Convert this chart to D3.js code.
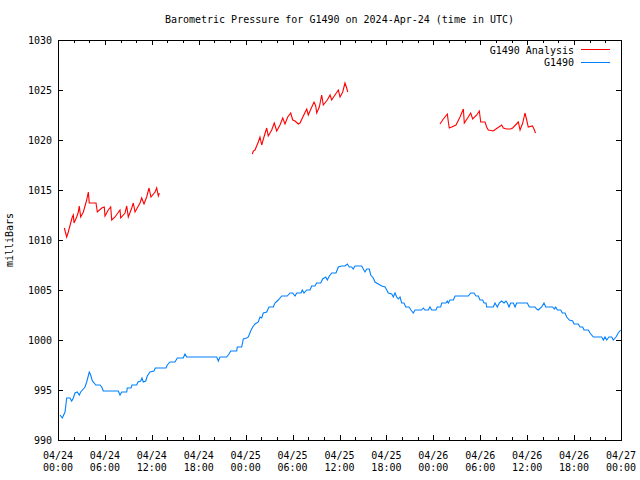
<!DOCTYPE html>
<html>
<head>
<meta charset="utf-8">
<script src="https://cdn.jsdelivr.net/npm/d3@7"></script>
<style>
  html, body { margin: 0; padding: 0; background: #fff; }
  svg text { font-family: "DejaVu Sans Mono", "Liberation Mono", monospace; font-size: 10px; fill: #000; }
</style>
</head>
<body>
<svg id="chart" width="640" height="480"></svg>
<script>
// ---- data (hours since 2024-04-24 00:00 UTC, millibars) ----
const startTime = Date.UTC(2024, 3, 24, 0, 0);
const endTime = Date.UTC(2024, 3, 27, 0, 0);
const yTicks = [990, 995, 1000, 1005, 1010, 1015, 1020, 1025, 1030];
const seriesNames = ["G1490 Analysis", "G1490"];

const analysisSeg1 = [
  [0.81,1011.2],[1.11,1010.3],[1.32,1010.8],[1.62,1011.7],[1.83,1012.3],[1.96,1012.5],[2.05,1011.7],
  [2.39,1012.3],[2.6,1012.8],[2.72,1013.4],[2.9,1012.3],[3.24,1012.8],[3.67,1014.0],[3.88,1014.8],
  [4.0,1013.7],[4.51,1013.7],[4.86,1013.7],[5.03,1012.8],[5.59,1013.2],[5.92,1013.3],[6.01,1012.4],
  [6.43,1013.0],[6.74,1013.3],[6.87,1012.0],[7.29,1012.3],[7.93,1013.0],[8.02,1012.2],[8.57,1012.7],
  [8.79,1013.4],[8.99,1012.3],[9.43,1013.2],[9.63,1013.7],[9.85,1012.8],[10.49,1013.7],[10.7,1014.2],
  [11.0,1013.6],[11.34,1014.3],[11.64,1015.2],[11.89,1014.3],[12.41,1014.8],[12.62,1015.2],[12.83,1014.4],
  [12.96,1014.7]
];
const analysisSeg2 = [
  [24.85,1018.6],[24.98,1018.9],[25.19,1019.0],[25.62,1019.8],[25.83,1020.3],[26.05,1019.5],[26.34,1020.3],
  [26.69,1021.2],[26.89,1020.4],[27.33,1021.0],[27.66,1021.7],[27.97,1020.9],[28.39,1021.5],[28.74,1022.2],
  [29.03,1021.6],[29.38,1022.3],[29.76,1022.7],[30.02,1022.0],[30.31,1021.9],[30.73,1021.6],[30.95,1021.7],
  [31.37,1022.4],[31.81,1023.1],[32.01,1022.5],[32.23,1022.9],[32.74,1023.8],[32.96,1023.4],[33.08,1022.7],
  [33.42,1023.3],[33.72,1024.5],[33.93,1023.5],[34.44,1024.0],[34.79,1024.5],[35.0,1024.0],[35.42,1024.5],
  [35.85,1025.0],[36.07,1024.3],[36.41,1024.8],[36.7,1025.7],[36.92,1025.2],[37.05,1024.8]
];
const analysisSeg3 = [
  [48.85,1021.6],[49.28,1022.1],[49.79,1022.6],[49.92,1021.8],[50.04,1021.2],[50.35,1021.3],[50.9,1021.5],
  [51.41,1022.3],[51.84,1023.1],[51.96,1021.7],[52.47,1022.3],[52.78,1022.7],[53.03,1022.1],[53.55,1022.5],
  [53.88,1022.9],[54.06,1021.8],[54.61,1021.8],[54.82,1021.3],[55.03,1021.0],[55.67,1020.9],[56.01,1021.1],
  [56.74,1021.5],[56.95,1021.2],[57.38,1021.1],[57.89,1021.1],[58.15,1021.2],[58.87,1021.8],[59.09,1021.0],
  [59.43,1021.7],[59.72,1022.7],[59.94,1022.0],[60.14,1021.3],[60.66,1021.4],[60.82,1021.2],[61.07,1020.7]
];
const observed = [
  [0.26,992.5],[0.55,992.2],[0.9,992.8],[1.11,994.2],[1.53,994.2],[1.75,993.9],[1.96,994.2],[2.17,994.7],
  [2.47,994.8],[2.72,994.5],[2.9,994.8],[3.24,995.1],[3.45,995.3],[3.67,995.8],[4.0,996.8],[4.18,996.5],
  [4.39,995.9],[4.64,995.7],[4.82,995.5],[5.37,995.5],[5.59,995.3],[5.79,994.9],[7.71,994.9],[7.93,994.5],
  [8.15,994.8],[8.79,994.8],[8.86,995.2],[9.34,995.2],[9.46,995.5],[10.06,995.5],[10.23,995.8],[10.58,995.9],
  [10.74,996.2],[10.91,995.8],[11.22,995.9],[11.42,996.4],[11.77,996.8],[12.28,996.9],[12.44,997.2],
  [13.81,997.2],[13.98,997.5],[14.32,997.8],[14.96,997.8],[15.26,998.2],[16.02,998.2],[16.24,998.6],
  [16.46,998.3],[20.3,998.3],[20.5,997.9],[20.72,998.3],[21.57,998.3],[21.87,998.6],[22.09,998.9],
  [22.85,998.9],[22.93,999.3],[23.49,999.3],[23.7,1000.1],[24.13,1000.2],[24.34,1000.3],[24.64,1000.9],
  [24.9,1001.3],[25.19,1001.6],[25.62,1001.8],[25.83,1002.3],[26.05,1002.2],[26.26,1002.7],[26.69,1002.8],
  [26.98,1003.3],[27.53,1003.3],[27.75,1003.7],[28.17,1004.0],[28.61,1004.4],[29.32,1004.4],[29.67,1004.7],
  [30.02,1004.7],[30.31,1004.4],[30.53,1004.7],[31.08,1004.7],[31.24,1005.0],[31.46,1004.7],[31.81,1005.0],
  [32.23,1005.0],[32.44,1005.4],[32.87,1005.4],[33.08,1005.7],[33.6,1005.7],[33.85,1006.1],[34.24,1006.3],
  [34.44,1006.0],[34.7,1006.4],[35.0,1006.7],[35.55,1006.7],[35.85,1007.3],[36.28,1007.4],[36.7,1007.4],
  [37.0,1007.6],[37.25,1007.3],[37.56,1007.3],[37.76,1007.1],[37.98,1007.4],[38.84,1007.4],[39.04,1007.1],
  [39.26,1006.8],[39.48,1007.1],[39.81,1007.1],[39.99,1006.5],[40.32,1006.2],[40.54,1005.8],[40.96,1005.6],
  [41.4,1005.4],[41.82,1005.3],[42.04,1005.0],[42.24,1004.7],[42.68,1004.6],[42.88,1004.3],[43.1,1004.7],
  [43.32,1004.3],[43.52,1004.1],[43.74,1004.3],[43.95,1003.7],[44.25,1003.7],[44.47,1003.3],[44.89,1003.3],
  [45.14,1003.0],[45.44,1002.7],[45.66,1003.0],[46.51,1003.0],[46.72,1003.2],[46.93,1003.0],[47.36,1003.0],
  [47.57,1003.3],[47.79,1003.0],[48.34,1003.0],[48.5,1003.3],[48.94,1003.3],[49.07,1003.7],[49.62,1003.7],
  [49.79,1003.9],[49.92,1003.7],[50.13,1004.0],[50.56,1004.0],[50.78,1004.4],[52.47,1004.4],[52.78,1004.7],
  [53.2,1004.7],[53.46,1004.4],[53.75,1004.4],[53.97,1004.0],[54.31,1004.0],[54.48,1003.7],[54.74,1003.7],
  [54.82,1003.3],[55.67,1003.3],[55.89,1003.7],[56.18,1003.3],[56.44,1003.7],[56.74,1003.9],[57.04,1003.7],
  [57.29,1003.9],[57.46,1003.7],[57.68,1003.3],[57.89,1003.7],[58.23,1003.7],[58.45,1003.3],[58.66,1003.7],
  [60.02,1003.7],[60.27,1003.3],[61.0,1003.3],[61.22,1003.1],[61.42,1003.0],[61.86,1003.3],[62.15,1003.7],
  [62.37,1003.3],[63.27,1003.3],[63.47,1003.1],[63.65,1003.3],[63.86,1003.0],[64.29,1003.0],[64.49,1002.7],
  [64.84,1002.7],[65.06,1002.3],[65.39,1002.0],[65.82,1001.9],[65.99,1001.6],[66.54,1001.6],[66.76,1001.3],
  [67.1,1001.3],[67.27,1001.0],[67.82,1001.0],[68.04,1000.7],[68.46,1000.3],[69.53,1000.3],[69.74,1000.0],
  [69.95,1000.3],[70.17,1000.0],[70.46,1000.3],[70.81,1000.3],[71.01,1000.0],[71.36,1000.3],[71.65,1000.7],
  [71.96,1001.0]
];

// ---- layout ----
const L = 58, R = 621, T = 40, B = 440;
const svg = d3.select("#chart");
const toDate = h => new Date(startTime + h * 3600e3);

const x = d3.scaleUtc().domain([new Date(startTime), new Date(endTime)]).range([L, R]);
const y = d3.scaleLinear().domain([990, 1030]).range([B, T]);

// title
svg.append("text").attr("x", (L + R) / 2).attr("y", 23).attr("text-anchor", "middle")
  .text("Barometric Pressure for G1490 on 2024-Apr-24 (time in UTC)");

// y label
svg.append("text").attr("transform", "translate(13,240) rotate(-90)").attr("text-anchor", "middle")
  .text("milliBars");

// axes group (ticks inward, mirrored)
const axes = svg.append("g").attr("stroke", "#000").attr("stroke-width", 1).attr("shape-rendering", "crispEdges");

const majorX = d3.utcHour.every(6).range(new Date(startTime), new Date(endTime + 1));
const minorX = d3.utcHour.every(2).range(new Date(startTime), new Date(endTime + 1))
  .filter(d => d.getUTCHours() % 6 !== 0);

majorX.forEach(d => {
  const px = Math.round(x(d)) + 0.5;
  axes.append("line").attr("x1", px).attr("x2", px).attr("y1", B).attr("y2", B - 5);
  axes.append("line").attr("x1", px).attr("x2", px).attr("y1", T).attr("y2", T + 5);
});
minorX.forEach(d => {
  const px = Math.round(x(d)) + 0.5;
  axes.append("line").attr("x1", px).attr("x2", px).attr("y1", B).attr("y2", B - 3);
  axes.append("line").attr("x1", px).attr("x2", px).attr("y1", T).attr("y2", T + 3);
});
yTicks.forEach(v => {
  const py = Math.round(y(v)) + 0.5;
  axes.append("line").attr("x1", L).attr("x2", L + 5).attr("y1", py).attr("y2", py);
  axes.append("line").attr("x1", R).attr("x2", R - 5).attr("y1", py).attr("y2", py);
});

// y tick labels
svg.append("g").selectAll("text").data(yTicks).join("text")
  .attr("x", 52).attr("y", d => y(d) + 3.5).attr("text-anchor", "end").text(d => d);

// x tick labels (two lines)
const fmtDay = d3.utcFormat("%m/%d"), fmtTime = d3.utcFormat("%H:%M");
const xl = svg.append("g").selectAll("g").data(majorX).join("g");
xl.append("text").attr("x", d => x(d)).attr("y", 459).attr("text-anchor", "middle").text(fmtDay);
xl.append("text").attr("x", d => x(d)).attr("y", 471).attr("text-anchor", "middle").text(fmtTime);

// lines
const line = d3.line().x(d => x(toDate(d[0]))).y(d => y(d[1]));
const colors = ["#ff0000", "#0080ff"];
[analysisSeg1, analysisSeg2, analysisSeg3].forEach(seg => {
  svg.append("path").datum(seg).attr("d", line).attr("fill", "none")
    .attr("stroke", colors[0]).attr("stroke-width", 1.1);
});
svg.append("path").datum(observed).attr("d", line).attr("fill", "none")
  .attr("stroke", colors[1]).attr("stroke-width", 1.1);

// border
axes.append("rect").attr("x", L + 0.5).attr("y", T + 0.5).attr("width", R - L).attr("height", B - T)
  .attr("fill", "none");

// legend
const leg = svg.append("g");
seriesNames.forEach((name, i) => {
  const ly = 50 + i * 12.5;
  leg.append("text").attr("x", 574).attr("y", ly + 3.5).attr("text-anchor", "end").text(name);
  leg.append("line").attr("x1", 581).attr("x2", 610).attr("y1", Math.round(ly) - 0.5).attr("y2", Math.round(ly) - 0.5)
    .attr("stroke", colors[i]).attr("stroke-width", 1).attr("shape-rendering", "crispEdges");
});
</script>
</body>
</html>
